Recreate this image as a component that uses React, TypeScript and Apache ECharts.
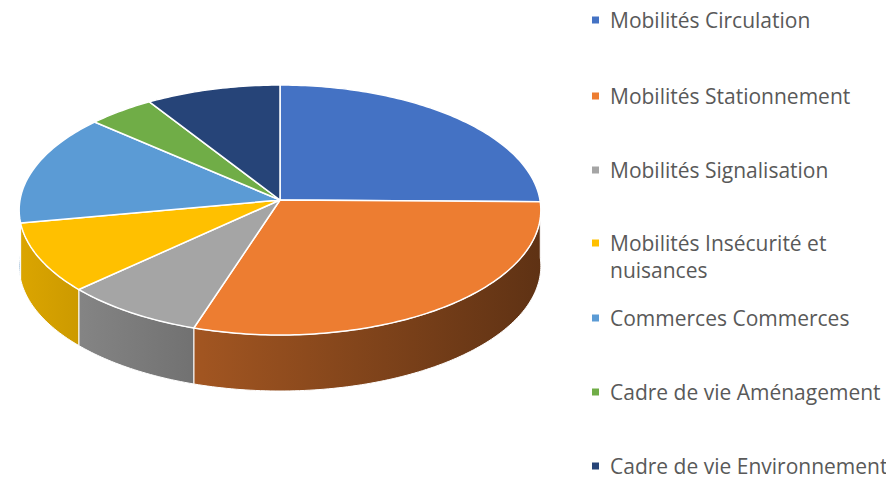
import React, { useEffect, useRef } from 'react';
import * as echarts from 'echarts';

const categories: string[] = [
  'Mobilités Circulation',
  'Mobilités Stationnement',
  'Mobilités Signalisation',
  'Mobilités Insécurité et\nnuisances',
  'Commerces Commerces',
  'Cadre de vie Aménagement',
  'Cadre de vie Environnement',
];
const values: number[] = [28, 33, 9, 10, 16, 5, 10];
const colors: string[] = ['#4472C4', '#ED7D31', '#A5A5A5', '#FFC000', '#5B9BD5', '#70AD47', '#264478'];
const legendCenters: number[] = [20, 96, 170, 243, 318, 392, 466];

// geometry of the tilted pie
const CX = 280;
const CY = 200;
const RX = 260;
const RY = 124.2;
const PERSP = -0.08;
const DEPTH = 56;

function proj(phi: number): number[] {
  const u = Math.sin(phi);
  const v = -Math.cos(phi);
  const s = 1 / (1 + PERSP * v);
  return [CX + RX * u * s, CY + RY * v * s];
}

function shade(hex: string, f: number): string {
  const n = parseInt(hex.slice(1), 16);
  const r = Math.round(((n >> 16) & 255) * f);
  const g = Math.round(((n >> 8) & 255) * f);
  const b = Math.round((n & 255) * f);
  return `rgb(${r},${g},${b})`;
}

export default function App() {
  const ref = useRef<HTMLDivElement>(null);
  useEffect(() => {
    if (!ref.current) return;
    const chart = echarts.init(ref.current, undefined, { renderer: 'svg' });
    const total = values.reduce((a, b) => a + b, 0);
    const starts: number[] = [];
    let acc = 0;
    values.forEach((v) => {
      starts.push((acc / total) * Math.PI * 2);
      acc += v;
    });

    const makeRender = (i: number) => (params: any, api: any) => {
      const val = api.value(0);
      const a0 = starts[i];
      const a1 = a0 + (val / total) * Math.PI * 2;
      const children: any[] = [];
      const s0 = Math.max(a0, Math.PI / 2);
      const s1 = Math.min(a1, (3 * Math.PI) / 2);
      if (s1 > s0) {
        const n = Math.max(2, Math.ceil((s1 - s0) / (Math.PI / 180)));
        const pts: number[][] = [];
        for (let k = 0; k <= n; k++) pts.push(proj(s0 + ((s1 - s0) * k) / n));
        for (let k = n; k >= 0; k--) {
          const p = proj(s0 + ((s1 - s0) * k) / n);
          pts.push([p[0], p[1] + DEPTH]);
        }
        children.push({
          type: 'polygon',
          shape: { points: pts },
          style: {
            fill: new echarts.graphic.LinearGradient(
              20,
              0,
              540,
              0,
              [
                { offset: 0, color: shade(colors[i], 0.86) },
                { offset: 0.35, color: shade(colors[i], 0.68) },
                { offset: 1, color: shade(colors[i], 0.4) },
              ],
              true
            ),
            stroke: '#ffffff',
            lineWidth: 1,
          },
          z2: 1,
        });
      }
      const n2 = Math.max(2, Math.ceil((a1 - a0) / (Math.PI / 180)));
      const tp: number[][] = [[CX, CY]];
      for (let k = 0; k <= n2; k++) tp.push(proj(a0 + ((a1 - a0) * k) / n2));
      children.push({
        type: 'polygon',
        shape: { points: tp },
        style: { fill: colors[i], stroke: '#ffffff', lineWidth: 1.5, lineJoin: 'round' },
        z2: 2,
      });
      return { type: 'group', children };
    };

    const textStyle = {
      fontFamily: 'Open Sans',
      fontSize: 21,
      color: '#595959',
      lineHeight: 27,
      padding: [0, 0, 0, 6],
    };

    chart.setOption({
      animation: false,
      backgroundColor: '#ffffff',
      legend: categories.map((c, i) => {
        const two = c.indexOf('\n') >= 0;
        return {
          data: [c],
          orient: 'vertical',
          left: 592,
          top: two ? legendCenters[i] - 40.5 : legendCenters[i] - 13.5,
          padding: 0,
          itemWidth: 7,
          itemHeight: 7,
          itemGap: 0,
          icon: 'rect',
          selectedMode: false,
          formatter: two ? (name: string) => '\n' + name : undefined,
          textStyle,
        };
      }),
      series: categories.map((c, i) => ({
        type: 'custom',
        name: c,
        coordinateSystem: 'none',
        silent: true,
        itemStyle: { color: colors[i] },
        data: [values[i]],
        renderItem: makeRender(i),
      })),
    });
    return () => chart.dispose();
  }, []);
  return <div ref={ref} style={{ position: 'fixed', left: 0, top: 0, width: 886, height: 491 }} />;
}
